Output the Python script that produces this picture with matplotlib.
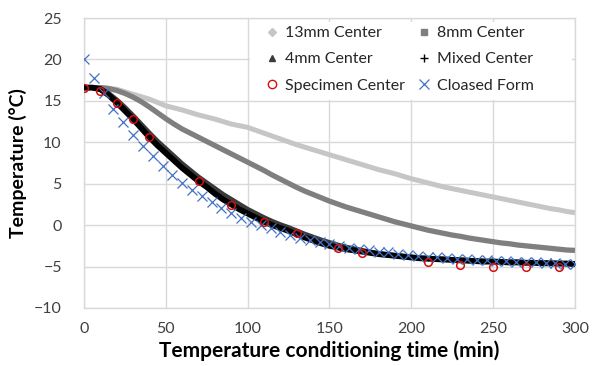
import matplotlib.pyplot as plt
from matplotlib.lines import Line2D
from matplotlib.patches import Rectangle

plt.rcParams['font.family'] = ['Lato', 'DejaVu Sans']

# --- data ---
t5 = list(range(0, 301, 5))
center_13mm = [16.6, 16.6, 16.6, 16.5, 16.4, 16.1, 15.8, 15.5, 15.2, 14.8,
               14.4, 14.15, 13.9, 13.6, 13.3, 13.05, 12.8, 12.5, 12.2, 12.0,
               11.8, 11.45, 11.1, 10.75, 10.4, 10.05, 9.7, 9.4, 9.1, 8.8,
               8.5, 8.2, 7.9, 7.6, 7.3, 7.0, 6.7, 6.45, 6.2, 5.9,
               5.6, 5.35, 5.1, 4.85, 4.6, 4.4, 4.2, 4.0, 3.8, 3.6,
               3.4, 3.2, 3.0, 2.8, 2.6, 2.4, 2.2, 2.0, 1.85, 1.65, 1.5]
center_8mm = [16.6, 16.6, 16.6, 16.5, 16.25, 15.9, 15.45, 14.9, 14.25, 13.55,
              12.85, 12.2, 11.6, 11.1, 10.6, 10.1, 9.6, 9.1, 8.6, 8.1,
              7.6, 7.1, 6.6, 6.05, 5.55, 5.05, 4.55, 4.1, 3.7, 3.3,
              2.9, 2.55, 2.2, 1.9, 1.6, 1.3, 1.0, 0.7, 0.4, 0.15,
              -0.1, -0.35, -0.6, -0.8, -1.0, -1.2, -1.35, -1.55, -1.7, -1.85,
              -2.0, -2.15, -2.25, -2.4, -2.5, -2.6, -2.7, -2.8, -2.9, -3.0, -3.05]
center_4mm = [16.6, 16.6, 16.5, 15.9, 15.1, 14.2, 13.2, 12.15, 11.1, 10.1,
              9.2, 8.3, 7.4, 6.6, 5.8, 5.1, 4.4, 3.7, 3.1, 2.5,
              1.9, 1.4, 0.9, 0.45, 0.05, -0.3, -0.7, -1.1, -1.45, -1.8,
              -2.1, -2.4, -2.65, -2.85, -3.05, -3.25, -3.4, -3.55, -3.65, -3.75,
              -3.85, -3.95, -4.0, -4.05, -4.1, -4.15, -4.2, -4.25, -4.3, -4.35,
              -4.35, -4.4, -4.45, -4.45, -4.5, -4.5, -4.55, -4.55, -4.6, -4.6, -4.65]
mixed_center = [16.6, 16.6, 16.4, 15.7, 14.8, 13.8, 12.8, 11.7, 10.6, 9.6,
                8.7, 7.8, 6.9, 6.1, 5.3, 4.6, 3.8, 3.1, 2.5, 1.9,
                1.4, 0.9, 0.4, 0.0, -0.35, -0.7, -1.1, -1.5, -1.85, -2.2,
                -2.5, -2.7, -2.9, -3.05, -3.2, -3.35, -3.5, -3.6, -3.7, -3.8,
                -3.9, -4.0, -4.05, -4.1, -4.15, -4.2, -4.25, -4.3, -4.35, -4.4,
                -4.4, -4.45, -4.5, -4.5, -4.55, -4.55, -4.6, -4.6, -4.65, -4.65, -4.7]

spec_t = [0, 10, 20, 30, 40, 70, 90, 110, 130, 155, 170, 210, 230, 250, 270, 290]
spec_temp = [16.6, 16.2, 14.7, 12.8, 10.6, 5.3, 2.4, 0.4, -1.0, -2.8, -3.4,
             -4.5, -4.8, -5.0, -5.1, -5.1]

closed_t = list(range(0, 301, 6))
closed_temp = [20.0, 17.8, 15.9, 14.0, 12.4, 10.9, 9.5, 8.3, 7.1, 6.1,
               5.1, 4.3, 3.5, 2.8, 2.1, 1.5, 0.9, 0.4, 0.0, -0.4,
               -0.8, -1.2, -1.5, -1.8, -2.0, -2.3, -2.5, -2.7, -2.9, -3.0,
               -3.2, -3.3, -3.5, -3.6, -3.7, -3.8, -3.9, -4.0, -4.05, -4.1,
               -4.2, -4.25, -4.3, -4.35, -4.4, -4.45, -4.5, -4.55, -4.6, -4.65, -4.7]

c13, c8, c4 = "#c6c6c6", "#7f7f7f", "#3a3a3a"
red, blue = "#d01010", "#4472c4"

fig = plt.figure(figsize=(5.97, 3.66), dpi=100)
ax = fig.add_axes([0.1407, 0.1585, 0.8224, 0.7923])

# dense marker strips drawn as thick bands
ax.plot(t5, center_13mm, color=c13, lw=3.6, solid_capstyle="butt", zorder=2)
ax.plot(t5, center_8mm, color=c8, lw=3.8, solid_capstyle="butt", zorder=3)
ax.plot(t5, center_4mm, color=c4, lw=3.6, solid_capstyle="butt", zorder=4)
ax.plot(t5, mixed_center, color="black", lw=4.2, solid_capstyle="butt", zorder=5)
ax.plot(closed_t, closed_temp, ls="none", marker="x", ms=6.5, mew=0.9,
        color=blue, zorder=6)
ax.plot(spec_t, spec_temp, ls="none", marker="o", ms=5.5, mew=1.1,
        mfc="none", mec=red, zorder=7)

ax.set_xlim(0, 300)
ax.set_ylim(-10, 25)
ax.set_xticks(range(0, 301, 50))
ax.set_yticks(range(-10, 26, 5))
ax.grid(True, color="#d9d9d9", lw=1.0)
ax.set_axisbelow(True)
for s in ax.spines.values():
    s.set_color("#d9d9d9")
    s.set_linewidth(1.0)
ax.tick_params(length=0, labelsize=11.5, colors="#404040")
ax.tick_params(axis="y", pad=16)
ax.tick_params(axis="x", pad=10)

ax.set_xlabel("Temperature conditioning time (min)", fontsize=15,
              fontweight="bold", labelpad=3)
ax.set_ylabel("Temperature (°C)", fontsize=14, fontweight="bold", labelpad=5)

# white block behind the legend hides the gridlines there
ax.add_patch(Rectangle((0.338, 0.717), 0.655, 0.268, transform=ax.transAxes,
                       facecolor="white", edgecolor="none", zorder=1.5))

# legend in row order (column-major fill)
h = {
    "13mm Center": Line2D([], [], ls="none", marker="D", ms=4, color=c13),
    "8mm Center": Line2D([], [], ls="none", marker="s", ms=4, color=c8),
    "4mm Center": Line2D([], [], ls="none", marker="^", ms=5, color=c4),
    "Mixed Center": Line2D([], [], ls="none", marker="+", ms=6, mew=1.0, color="black"),
    "Specimen Center": Line2D([], [], ls="none", marker="o", ms=6, mfc="none", mec=red),
    "Cloased Form": Line2D([], [], ls="none", marker="x", ms=7, mew=0.9, color=blue),
}
order = ["13mm Center", "4mm Center", "Specimen Center",
         "8mm Center", "Mixed Center", "Cloased Form"]
leg = ax.legend([h[k] for k in order], order, ncol=2, loc="upper left",
                bbox_to_anchor=(0.37, 0.972), fontsize=11.5, frameon=False,
                handlelength=0.8, handletextpad=0.4, columnspacing=0.8,
                labelspacing=0.75, borderpad=0, borderaxespad=0)
for txt in leg.get_texts():
    txt.set_color("#262626")
leg.set_zorder(10)

fig.savefig("out.png", dpi=100)
